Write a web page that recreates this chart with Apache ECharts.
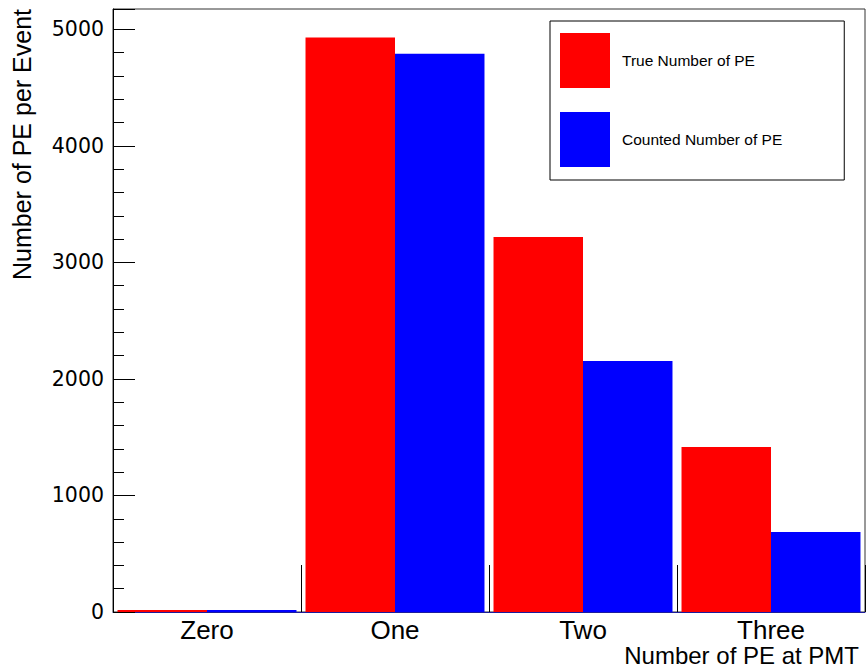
<!DOCTYPE html>
<html>
<head>
<meta charset="utf-8">
<script src="https://cdn.jsdelivr.net/npm/echarts@6/dist/echarts.min.js"></script>
<style>
  html, body { margin: 0; padding: 0; background: #fff; }
  #chart { width: 868px; height: 669px; }
</style>
</head>
<body>
<div id="chart"></div>
<script>
// Bins of the photo-electron count histogram
const categories = ['Zero', 'One', 'Two', 'Three'];
// Mean number of PE per event in each bin
const trueCounts = [0, 4931, 3218, 1416];
const countedCounts = [0, 4791, 2154, 686];
const seriesNames = ['True Number of PE', 'Counted Number of PE'];
// Value axis range and major step
const yMin = 0;
const yMax = 5175;
const yStep = 1000;

const sans = '"Liberation Sans", Arial, Helvetica, sans-serif';
const chart = echarts.init(document.getElementById('chart'), null, { renderer: 'svg' });

chart.setOption({
  animation: false,
  backgroundColor: '#fff',
  grid: {
    left: 113, right: 3, top: 9, bottom: 57,
    show: true, borderColor: '#333', borderWidth: 1,
    backgroundColor: 'transparent'
  },
  xAxis: {
    type: 'category',
    data: categories,
    boundaryGap: true,
    axisLine: { show: true, lineStyle: { color: '#1c1c9c', width: 1 } },
    axisTick: { show: true, inside: true, length: 47, lineStyle: { color: '#000' } },
    axisLabel: { fontFamily: sans, fontSize: 26, lineHeight: 25, color: '#000', margin: 5 },
    splitLine: { show: false }
  },
  yAxis: {
    type: 'value',
    min: yMin, max: yMax, interval: yStep,
    axisLine: { show: true, lineStyle: { color: '#000' } },
    axisTick: { show: true, inside: true, length: 22, lineStyle: { color: '#000' } },
    minorTick: { show: true, splitNumber: 5, length: 11, lineStyle: { color: '#000' } },
    splitLine: { show: false },
    axisLabel: {
      fontFamily: '"DejaVu Sans", sans-serif', fontSize: 20.5, color: '#000', margin: 9,
      formatter: v => (v % yStep === 0 ? String(v) : '')
    }
  },
  legend: {
    data: seriesNames,
    orient: 'vertical',
    left: 550, top: 21,
    itemWidth: 50, itemHeight: 55, itemGap: 24,
    padding: [12, 62, 13, 10],
    borderColor: '#000', borderWidth: 1,
    backgroundColor: '#fff',
    selectedMode: false,
    icon: 'rect',
    textStyle: { fontFamily: sans, fontSize: 15.5, color: '#000', padding: [0, 0, 0, 7] }
  },
  graphic: [
    {
      type: 'text', x: 9, y: 9, rotation: Math.PI / 2,
      style: { text: 'Number of PE per Event', fontFamily: sans, fontSize: 25, fill: '#000', align: 'right', verticalAlign: 'top' }
    },
    {
      type: 'text', x: 859, y: 644,
      style: { text: 'Number of PE at PMT', fontFamily: sans, fontSize: 24, lineHeight: 23, fill: '#000', align: 'right', verticalAlign: 'top' }
    }
  ],
  series: [
    {
      name: seriesNames[0], type: 'bar', data: trueCounts,
      barWidth: '47.6%', barGap: '0%', barMinHeight: 2,
      itemStyle: { color: '#ff0000' }
    },
    {
      name: seriesNames[1], type: 'bar', data: countedCounts,
      barWidth: '47.6%', barGap: '0%', barMinHeight: 2,
      itemStyle: { color: '#0000ff' }
    }
  ]
});
</script>
</body>
</html>
